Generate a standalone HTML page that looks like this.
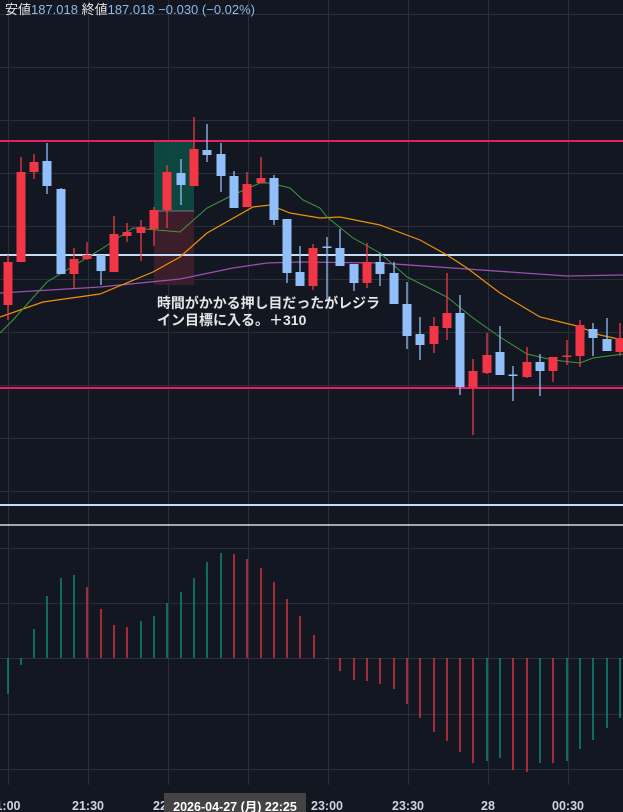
<!DOCTYPE html>
<html><head><meta charset="utf-8"><style>
html,body{margin:0;padding:0;background:#131722;}
svg{display:block;}
text{font-family:"Liberation Sans","Noto Sans CJK JP",sans-serif;}
</style></head><body>
<svg width="623" height="812" viewBox="0 0 623 812" xmlns="http://www.w3.org/2000/svg">
<rect width="623" height="812" fill="#131722"/>
<g stroke="#2a2e39" stroke-width="1">
<path d="M8.5 0V785M88.5 0V785M168.5 0V785M248.5 0V785M328.5 0V785M408.5 0V785M488.5 0V785M568.5 0V785"/>
<path d="M0 14.5H623M0 67.5H623M0 120.5H623M0 173.5H623M0 226.5H623M0 279.5H623M0 332.5H623M0 385.5H623M0 438.5H623M0 491.5H623M0 548.5H623M0 603.5H623M0 658.5H623M0 714.5H623M0 769.5H623"/>
</g>
<rect x="154" y="141" width="40" height="70" fill="#0f4a42" opacity="0.9"/>
<rect x="154" y="211" width="40" height="74" fill="#3d1f2a" opacity="0.95"/>
<line x1="154" y1="211" x2="194" y2="211" stroke="#777" stroke-width="1"/>
<line x1="0" y1="141" x2="623" y2="141" stroke="#e91e63" stroke-width="2"/>
<line x1="0" y1="388" x2="623" y2="388" stroke="#e91e63" stroke-width="2"/>
<line x1="0" y1="255" x2="623" y2="255" stroke="#c5dcf7" stroke-width="2"/>
<line x1="0" y1="505" x2="623" y2="505" stroke="#c5dcf7" stroke-width="2"/>
<line x1="0" y1="525" x2="623" y2="525" stroke="#ffffff" stroke-width="1.2"/>
<polyline fill="none" stroke="#9c4fb0" stroke-width="1.3" points="0,293 100,287 180,279 233,268 267,263 300,262 380,263 467,269 567,276 623,275"/>
<polyline fill="none" stroke="#f0900a" stroke-width="1.2" points="0,317 43,302 100,294 153,272 180,257 207,233 253,207 270,205 290,213 320,218 340,217 380,225 420,240 447,255 467,268 500,293 540,317 577,326 600,335 623,340"/>
<polyline fill="none" stroke="#3f9a40" stroke-width="1" points="0,333 13,320 47,282 103,248 133,228 157,230 180,232 207,208 233,195 260,183 270,183 290,188 303,200 320,208 327,217 353,238 380,253 407,277 433,290 447,297 473,318 500,337 527,354 553,360 580,363 593,358 623,354"/>
<g stroke-width="1.3">
<path stroke="#f23645" d="M8 255V320M21 157V262M34 154V179M74 248V288M87 242V260M114 216V272M127 223V242M141 220V261M154 207V246M167 165V228M194 117V186M247 172V207M261 157V183M313 244V290M367 243V288M434 317V353M447 273V340M473 359V435M487 333V374M527 347V378M553 357V382M567 340V365M580 320V367M620 323V356"/>
<path stroke="#90bff9" d="M47 143V194M61 188V274M101 255V285M181 159V205M207 124V162M221 143V192M234 171V208M274 175V225M287 219V283M300 246V286M327 237V300M340 229V266M354 264V291M380 253V286M394 262V304M407 282V349M420 317V360M460 295V395M500 326V375M513 366V401M540 354V396M593 323V356M607 318V351"/>
</g>
<g fill="#f23645">
<rect x="3.5" y="262" width="9" height="43"/><rect x="16.5" y="172" width="9" height="90"/><rect x="29.5" y="162" width="9" height="10"/><rect x="69.5" y="259" width="9" height="15"/><rect x="82.5" y="255" width="9" height="4"/><rect x="109.5" y="234" width="9" height="38"/><rect x="122.5" y="232" width="9" height="4"/><rect x="136.5" y="227" width="9" height="6"/><rect x="149.5" y="210" width="9" height="19"/><rect x="162.5" y="172" width="9" height="38"/><rect x="189.5" y="149" width="9" height="37"/><rect x="242.5" y="184" width="9" height="23"/><rect x="256.5" y="178" width="9" height="5"/><rect x="308.5" y="248" width="9" height="38"/><rect x="362.5" y="262" width="9" height="21"/><rect x="429.5" y="326" width="9" height="18"/><rect x="442.5" y="313" width="9" height="15"/><rect x="468.5" y="371" width="9" height="16"/><rect x="482.5" y="355" width="9" height="18"/><rect x="522.5" y="362" width="9" height="15"/><rect x="548.5" y="357" width="9" height="14"/><rect x="562.5" y="355.5" width="9" height="1.5"/><rect x="575.5" y="325" width="9" height="31"/><rect x="615.5" y="338" width="9" height="14"/>
</g>
<g fill="#90bff9">
<rect x="42.5" y="161" width="9" height="25"/><rect x="56.5" y="189" width="9" height="85"/><rect x="96.5" y="255" width="9" height="16"/><rect x="176.5" y="173" width="9" height="12"/><rect x="202.5" y="150" width="9" height="5"/><rect x="216.5" y="154" width="9" height="22"/><rect x="229.5" y="176" width="9" height="32"/><rect x="269.5" y="178" width="9" height="42"/><rect x="282.5" y="219" width="9" height="54"/><rect x="295.5" y="272" width="9" height="14"/><rect x="322.5" y="246.5" width="9" height="1.5"/><rect x="335.5" y="248" width="9" height="18"/><rect x="349.5" y="264" width="9" height="19"/><rect x="375.5" y="262" width="9" height="12"/><rect x="389.5" y="273" width="9" height="31"/><rect x="402.5" y="304" width="9" height="32"/><rect x="415.5" y="334" width="9" height="11"/><rect x="455.5" y="313" width="9" height="74"/><rect x="495.5" y="352" width="9" height="23"/><rect x="508.5" y="374.5" width="9" height="1.5"/><rect x="535.5" y="362" width="9" height="9"/><rect x="588.5" y="329" width="9" height="9"/><rect x="602.5" y="339" width="9" height="12"/>
</g>
<text x="157" y="308" fill="#e6e6e6" font-size="14" font-weight="bold" textLength="223" lengthAdjust="spacingAndGlyphs">時間がかかる押し目だったがレジラ</text>
<text x="157" y="325" fill="#e6e6e6" font-size="14" font-weight="bold">イン目標に入る。＋310</text>
<g stroke-width="1.3">
<path stroke="#089981" d="M8 658V694M21 658V665M34 658V629M47 658V596M61 658V578M74 658V575M141 658V621M154 658V616M167 658V603M181 658V592M194 658V578M207 658V562M221 658V553M487 658V761M500 658V758M540 658V763M567 658V761M580 658V749M593 658V740M607 658V728M620 658V718"/>
<path stroke="#f23645" d="M87 658V587M101 658V609M114 658V625M127 658V627M234 658V554M247 658V559M261 658V568M274 658V582M287 658V599M300 658V616M314 658V635M327 658V659M340 658V671M354 658V680M367 658V681M380 658V684M394 658V689M407 658V704M420 658V718M434 658V732M447 658V741M460 658V752M473 658V763M513 658V770M527 658V772M553 658V763"/>
</g>
<text x="5" y="14" font-size="13" textLength="250" lengthAdjust="spacingAndGlyphs"><tspan fill="#e6e6e6">安値</tspan><tspan fill="#8fb8e8">187.018 </tspan><tspan fill="#e6e6e6">終値</tspan><tspan fill="#8fb8e8">187.018  −0.030 (−0.02%)</tspan></text>
<g fill="#d1d4dc" font-size="12.5" font-weight="bold" text-anchor="middle">
<text x="8" y="810">1:00</text>
<text x="88" y="810">21:30</text>
<text x="160" y="810">22</text>
<text x="327" y="810">23:00</text>
<text x="408" y="810">23:30</text>
<text x="488" y="810">28</text>
<text x="568" y="810">00:30</text>
</g>
<rect x="164" y="793" width="142" height="19" fill="#434343"/>
<text x="235" y="811" fill="#ffffff" font-size="12.5" font-weight="bold" text-anchor="middle">2026-04-27 (月)  22:25</text>
</svg>
</body></html>
